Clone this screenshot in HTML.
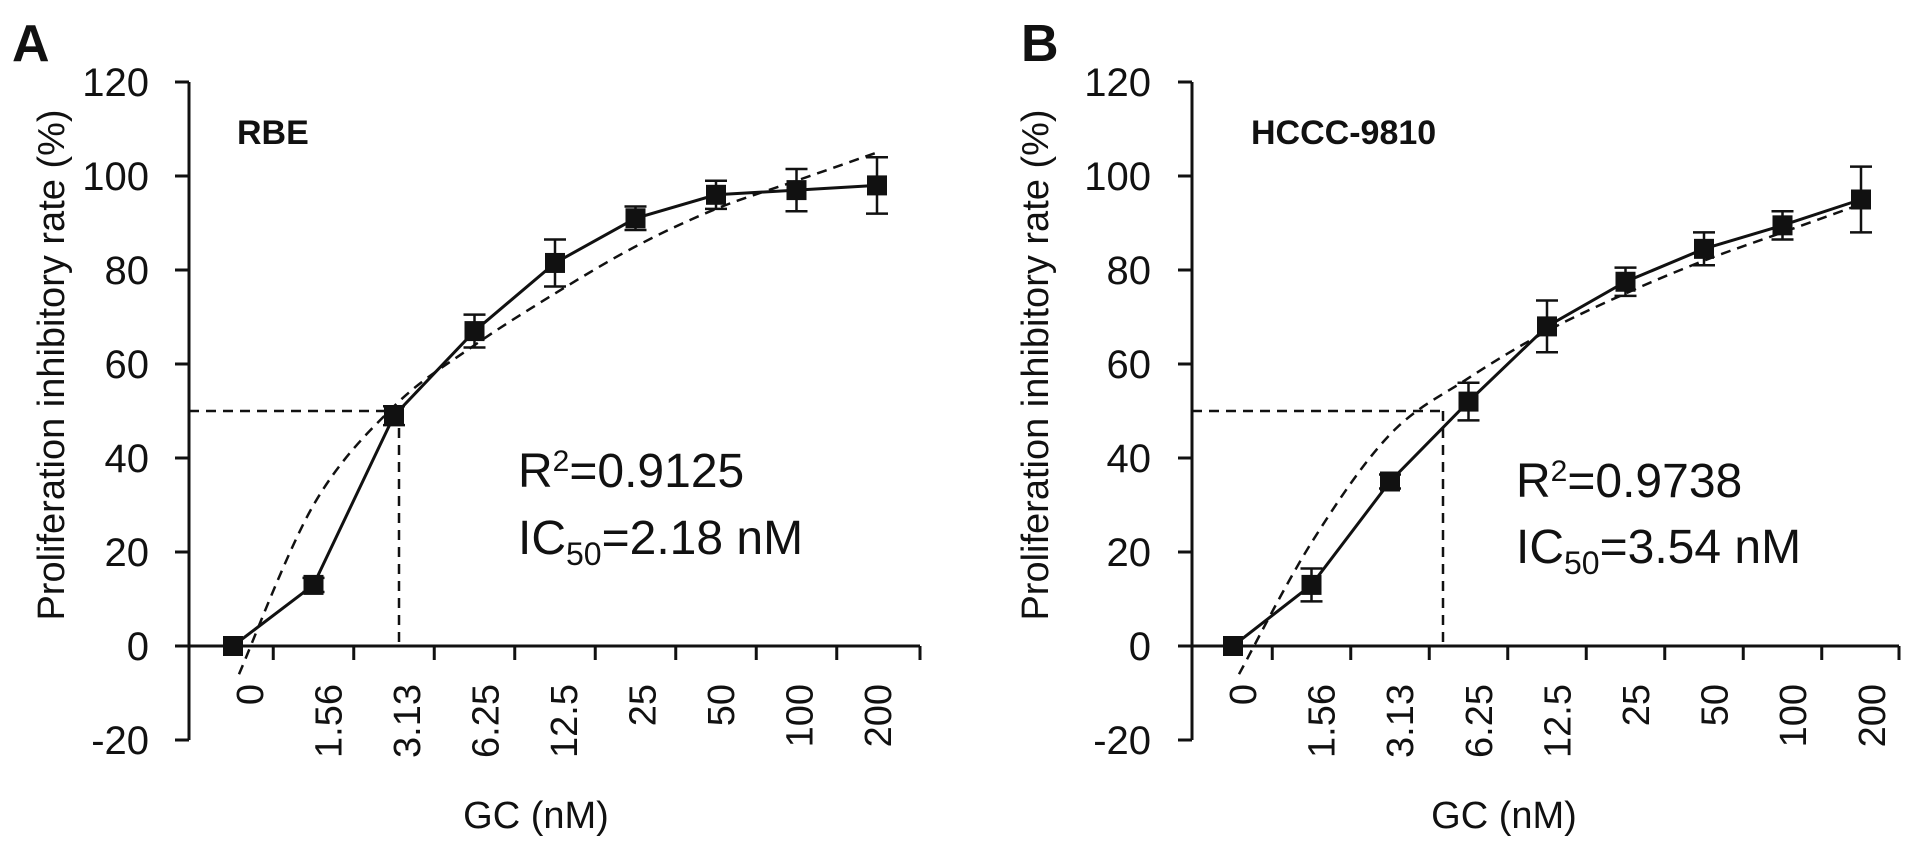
<!DOCTYPE html>
<html><head><meta charset="utf-8"><style>
body{margin:0;background:#fff}
svg{display:block}
text{font-family:"Liberation Sans",sans-serif;fill:#111}
</style></head><body>
<svg id="chart" width="1913" height="866" viewBox="0 0 1913 866" xmlns="http://www.w3.org/2000/svg"></svg>
<script>
const categories = ["0","1.56","3.13","6.25","12.5","25","50","100","200"];
const yTicks = [-20,0,20,40,60,80,100,120];
const rbeValues = [0,13,49,67,81.5,91,96,97,98];
const rbeErrors = [0,1.5,2,3.5,5,2.5,3,4.5,6];
const rbeFit = [-6,30,51,64,75,85,93,99,105];
const hcccValues = [0,13,35,52,68,77.5,84.5,89.5,95];
const hcccErrors = [0,3.5,1.5,4,5.5,3,3.5,3,7];
const hcccFit = [-6,22,45,57,67,75,82,88,94];

const NS="http://www.w3.org/2000/svg";
const svg=document.getElementById('chart');
function el(tag,attrs,parent){const e=document.createElementNS(NS,tag);for(const k in attrs)e.setAttribute(k,attrs[k]);(parent||svg).appendChild(e);return e;}

const panels=[
 {letter:"A",title:"RBE",vals:rbeValues,errs:rbeErrors,fit:rbeFit,axisX:189,x0:233,dx:80.5,axisEnd:920,lab0:250,ldx:78.5,icX:399,letterX:12,titleX:237,r2X:518,r2Y:487,icY:554,yTitleX:51,gcX:536,tickLabR:149,r2:"0.9125",ic:"2.18"},
 {letter:"B",title:"HCCC-9810",vals:hcccValues,errs:hcccErrors,fit:hcccFit,axisX:1192,x0:1233,dx:78.5,axisEnd:1899,lab0:1243,ldx:78.6,icX:1443,letterX:1021,titleX:1251,r2X:1516,r2Y:497,icY:563,yTitleX:1035,gcX:1504,tickLabR:1151,r2:"0.9738",ic:"3.54"}
];

function yScale(v){return 646-4.7*v;}

panels.forEach((p,pi)=>{
  const g=el('g',{});
  
  
  const xS=i=>p.x0+p.dx*i;

  const L=el('text',{x:p.letterX,y:61,'font-size':52,'font-weight':'bold'},g);L.textContent=p.letter;
  
  const T=el('text',{x:p.titleX,y:144,'font-size':34,'font-weight':'bold'},g);T.textContent=p.title;
  

  const ya=el('line',{x1:p.axisX,y1:yScale(120),x2:p.axisX,y2:yScale(-20),stroke:'#111','stroke-width':3},g);
  
  yTicks.forEach(t=>{
    const tk=el('line',{x1:p.axisX-14,y1:yScale(t),x2:p.axisX,y2:yScale(t),stroke:'#111','stroke-width':3},g);
    
    const tl=el('text',{x:p.tickLabR,y:yScale(t)+14,'font-size':40,'text-anchor':'end'},g);tl.textContent=t;
    
  });
  const yt=el('text',{x:0,y:0,'font-size':38,'text-anchor':'middle',transform:`translate(${p.yTitleX+13},365) rotate(-90)`},g);
  yt.textContent="Proliferation inhibitory rate (%)";
  

  const xa=el('line',{x1:p.axisX-14,y1:yScale(0),x2:p.axisEnd,y2:yScale(0),stroke:'#111','stroke-width':3},g);
  
  for(let k=0;k<categories.length-1;k++){
    const tx=p.x0+p.dx*(k+0.5);
    const tk=el('line',{x1:tx,y1:yScale(0),x2:tx,y2:yScale(0)+14,stroke:'#111','stroke-width':3},g);
    
  }
  const te=el('line',{x1:p.axisEnd,y1:yScale(0),x2:p.axisEnd,y2:yScale(0)+14,stroke:'#111','stroke-width':3},g);
  
  categories.forEach((c,i)=>{
    const lx=p.lab0+p.ldx*i;
    const tl=el('text',{x:0,y:0,'font-size':38,'text-anchor':'end',transform:`translate(${lx+13},684) rotate(-90)`},g);
    tl.textContent=c;
    
  });
  const xt=el('text',{x:p.gcX,y:828,'font-size':38,'text-anchor':'middle'},g);xt.textContent="GC (nM)";
  

  const hg=el('line',{x1:p.axisX,y1:yScale(50),x2:p.icX,y2:yScale(50),stroke:'#111','stroke-width':2.5,'stroke-dasharray':'10 7'},g);
  
  const vg=el('line',{x1:p.icX,y1:yScale(50),x2:p.icX,y2:yScale(0),stroke:'#111','stroke-width':2.5,'stroke-dasharray':'10 7'},g);
  

  const pts=p.fit.map((v,i)=>[xS(i),yScale(v)]);
  pts[0]=[xS(0)+6,pts[0][1]];
  let d=`M${pts[0][0]},${pts[0][1]}`;
  for(let i=0;i<pts.length-1;i++){
    const p0=pts[Math.max(0,i-1)],p1=pts[i],p2=pts[i+1],p3=pts[Math.min(pts.length-1,i+2)];
    const c1=[p1[0]+(p2[0]-p0[0])/6,p1[1]+(p2[1]-p0[1])/6];
    const c2=[p2[0]-(p3[0]-p1[0])/6,p2[1]-(p3[1]-p1[1])/6];
    d+=` C${c1[0]},${c1[1]} ${c2[0]},${c2[1]} ${p2[0]},${p2[1]}`;
  }
  const fc=el('path',{d:d,fill:'none',stroke:'#111','stroke-width':2.5,'stroke-dasharray':'10 7'},g);
  

  const dl=el('polyline',{points:p.vals.map((v,i)=>xS(i)+','+yScale(v)).join(' '),fill:'none',stroke:'#111','stroke-width':3},g);
  

  p.vals.forEach((v,i)=>{
    const x=xS(i),e=p.errs[i];
    if(e>0){
      const eb=el('path',{d:`M${x},${yScale(v+e)}V${yScale(v-e)}M${x-11},${yScale(v+e)}H${x+11}M${x-11},${yScale(v-e)}H${x+11}`,stroke:'#111','stroke-width':2.5,fill:'none'},g);
      
    }
    const m=el('rect',{x:x-10,y:yScale(v)-10,width:20,height:20,fill:'#111'},g);
    
  });

  const r2=el('text',{x:p.r2X,y:p.r2Y,'font-size':48},g);
  r2.innerHTML=`R<tspan dy="-16" font-size="30">2</tspan><tspan dy="16">=${p.r2}</tspan>`;
  
  const ic=el('text',{x:p.r2X,y:p.icY,'font-size':48},g);
  ic.innerHTML=`IC<tspan dy="11" font-size="32">50</tspan><tspan dy="-11">=${p.ic} nM</tspan>`;
  
});
</script>
</body></html>
